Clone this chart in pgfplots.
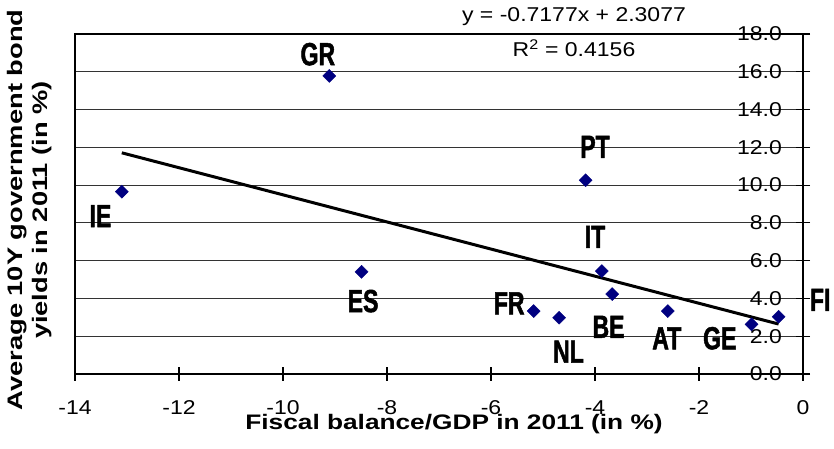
\documentclass[border=0pt]{standalone}
\usepackage{fontspec}
\setmainfont{Liberation Sans}
\newfontfamily\tickfont[FakeStretch=1.15]{Liberation Sans}
\newfontfamily\xlabfont[FakeStretch=1.25]{Liberation Sans}
\newfontfamily\ylabfont[FakeStretch=1.3]{Liberation Sans}
\newfontfamily\cfont[FakeStretch=0.72, FakeBold=1.5]{Liberation Sans Bold}
\usepackage{pgfplots}
\pgfplotsset{compat=1.18}
\definecolor{mknavy}{RGB}{0,0,128}

\begin{document}
\begin{tikzpicture}
\begin{axis}[
    at={(75pt,75pt)}, anchor=south west,
    scale only axis, width=728pt, height=340pt,
    xmin=-14, xmax=0, ymin=0, ymax=18,
    xtick={-14,-12,...,0},
    xticklabels={-14,-12,-10,-8,-6,-4,-2,0},
    ytick={0,2,...,18},
    yticklabels={0.0,2.0,4.0,6.0,8.0,10.0,12.0,14.0,16.0,18.0},
    xtick pos=left, ytick pos=right, yticklabel pos=right,
    tick align=center, major tick length=14pt,
    ymajorgrids, grid style={black!80, line width=0.9pt},
    axis line style={line width=1.2pt},
    tick style={black, line width=1.2pt},
    tick label style={font=\tickfont\fontsize{20}{20}\selectfont, inner sep=0pt},
    xticklabel style={anchor=center, yshift=-27pt},
    yticklabel style={anchor=east, xshift=-28pt},
    clip=false,
]
% trend line
\addplot[black, line width=3pt] coordinates {(-13.1,11.71) (-0.47,2.645)};
% countries
\addplot[only marks, mark=square*, mark size=4.6pt,
    mark options={rotate=45, fill=mknavy, draw=mknavy}] coordinates {
    (-13.10,9.65) (-9.11,15.78) (-8.49,5.41) (-4.18,10.26) (-3.87,5.45)
    (-3.67,4.23) (-5.18,3.33) (-4.69,2.98) (-2.60,3.33) (-0.99,2.63) (-0.47,3.03)
};
\begin{scope}[every node/.style={font=\cfont\fontsize{32}{32}\selectfont, inner sep=0pt}]
\node at (axis cs:-9.33,16.93) {GR};
\node at (axis cs:-13.51,8.36) {IE};
\node at (axis cs:-8.46,3.86) {ES};
\node at (axis cs:-4.00,12.03) {PT};
\node at (axis cs:-4.00,7.26) {IT};
\node at (axis cs:-5.65,3.74) {FR};
\node at (axis cs:-4.51,1.18) {NL};
\node at (axis cs:-3.74,2.50) {BE};
\node at (axis cs:-2.62,1.89) {AT};
\node at (axis cs:-1.60,1.89) {GE};
\node[anchor=west] at (axis cs:0.13,3.92) {FI};
\end{scope}
\end{axis}
% regression text and axis titles
\node[anchor=base, inner sep=0pt, font=\tickfont\fontsize{20}{20}\selectfont] at (574pt,427pt) {y = -0.7177x + 2.3077};
\node[anchor=base, inner sep=0pt, font=\tickfont\fontsize{20}{20}\selectfont] at (574pt,392pt) {R\textsuperscript{2} = 0.4156};
\node[anchor=base, inner sep=0pt, font=\xlabfont\bfseries\fontsize{21}{21}\selectfont] at (454pt,19pt) {Fiscal balance/GDP in 2011 (in \%)};
\node[rotate=90, align=center, inner sep=0pt, font=\ylabfont\bfseries\fontsize{21}{25}\selectfont] at (30pt,239pt) {Average 10Y government bond\\yields in 2011 (in \%)};
\pgfresetboundingbox
\path[use as bounding box] (0,0) rectangle (834pt,449pt);
\end{tikzpicture}
\end{document}
